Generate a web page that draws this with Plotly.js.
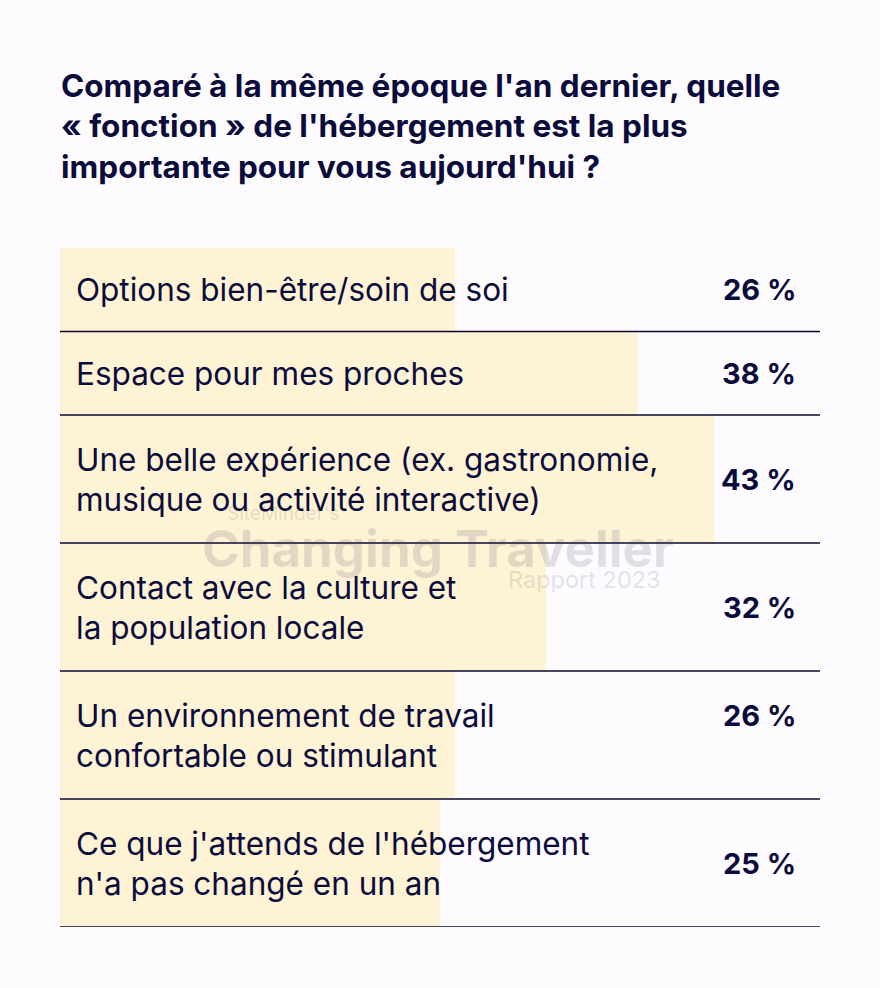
<!DOCTYPE html>
<html>
<head>
<meta charset="utf-8">
<script src="https://cdn.plot.ly/plotly-3.0.1.min.js"></script>
<style>
  html, body { margin: 0; padding: 0; background: #fdfbfd; }
  #chart { width: 880px; height: 988px; }
</style>
</head>
<body>
<div id="chart"></div>
<script>
// ---- data ----
const titleLines = [
  "Comparé à la même époque l'an dernier, quelle",
  "« fonction » de l'hébergement est la plus",
  "importante pour vous aujourd'hui ?"
];
const categories = [
  "Options bien-être/soin de soi",
  "Espace pour mes proches",
  "Une belle expérience (ex. gastronomie,<br>musique ou activité interactive)",
  "Contact avec la culture et<br>la population locale",
  "Un environnement de travail<br>confortable ou stimulant",
  "Ce que j'attends de l'hébergement<br>n'a pas changé en un an"
];
const values = [26, 38, 43, 32, 26, 25];
const valueLabels = ["26 %", "38 %", "43 %", "32 %", "26 %", "25 %"];

// ---- layout helpers ----
const NAVY = '#0b0c3c';
const FONT = 'Inter, Roboto, "Noto Sans", sans-serif';
const lineCounts = categories.map(c => c.split('<br>').length);
const rowH = lineCounts.map(n => n === 1 ? 83.5 : 128);
const centers = [];
const bounds = [];
let acc = 0;
rowH.forEach(h => { centers.push(acc + h / 2); acc += h; bounds.push(acc); });
const total = acc;
// percentage vertical alignment (row 5 is aligned with its first text line in the reference)
const valOffset = [0, 0, 0, 0, -20, 0];

const annotations = [];
const LINE_GAP = 40;
categories.forEach((c, i) => {
  const parts = c.split('<br>');
  parts.forEach((p, j) => {
    const off = (j - (parts.length - 1) / 2) * LINE_GAP;
    annotations.push({
      xref: 'x', yref: 'y', x: 0, y: centers[i], xshift: 14, yshift: -off,
      xanchor: 'left', yanchor: 'middle', showarrow: false, text: p,
      font: { family: FONT, size: 31.5, color: NAVY }
    });
  });
  annotations.push({
    xref: 'paper', yref: 'y', x: 1, y: centers[i], xshift: -22, yshift: -valOffset[i],
    xanchor: 'right', yanchor: 'middle', showarrow: false, text: '<b>' + valueLabels[i] + '</b>',
    font: { family: FONT, size: 29, color: NAVY }
  });
});
// title lines
titleLines.forEach((t, k) => {
  annotations.push({
    xref: 'paper', yref: 'paper', x: 0, y: 1, xshift: -1, yshift: 163 - k * 40.5,
    xanchor: 'left', yanchor: 'middle', showarrow: false, text: '<b>' + t + '</b>',
    font: { family: FONT, size: 31.5, color: NAVY }
  });
});
// watermark
const WM = 'rgba(60,50,90,0.14)';
annotations.push({ xref: 'paper', yref: 'paper', x: 0, y: 1, xshift: 165, yshift: -265, xanchor: 'left', yanchor: 'middle', showarrow: false, text: "SiteMinder's", font: { family: FONT, size: 19, color: WM } });
annotations.push({ xref: 'paper', yref: 'paper', x: 0, y: 1, xshift: 378, yshift: -300, xanchor: 'center', yanchor: 'middle', showarrow: false, text: '<b>Changing Traveller</b>', font: { family: FONT, size: 51, color: WM } });
annotations.push({ xref: 'paper', yref: 'paper', x: 0, y: 1, xshift: 603, yshift: -331, xanchor: 'right', yanchor: 'middle', showarrow: false, text: 'Rapport 2023', font: { family: FONT, size: 23.5, color: WM } });

const shapes = bounds.map(b => ({
  type: 'line', xref: 'paper', yref: 'y', x0: 0, x1: 1, y0: b, y1: b,
  line: { color: '#0a0a30', width: 1.3 }
}));

const trace = {
  type: 'bar', orientation: 'h',
  x: values, y: centers, width: rowH,
  marker: { color: '#fff3d5', line: { width: 0 } },
  hoverinfo: 'skip'
};

const layout = {
  width: 880, height: 988,
  margin: { l: 60, r: 60, t: 248, b: 61 },
  paper_bgcolor: '#fdfbfd', plot_bgcolor: '#fdfbfd',
  xaxis: { range: [0, 50], visible: false, fixedrange: true },
  yaxis: { range: [total, 0], visible: false, fixedrange: true },
  showlegend: false, bargap: 0,
  annotations: annotations, shapes: shapes
};

Plotly.newPlot('chart', [trace], layout, { displayModeBar: false, staticPlot: true });
</script>
</body>
</html>
